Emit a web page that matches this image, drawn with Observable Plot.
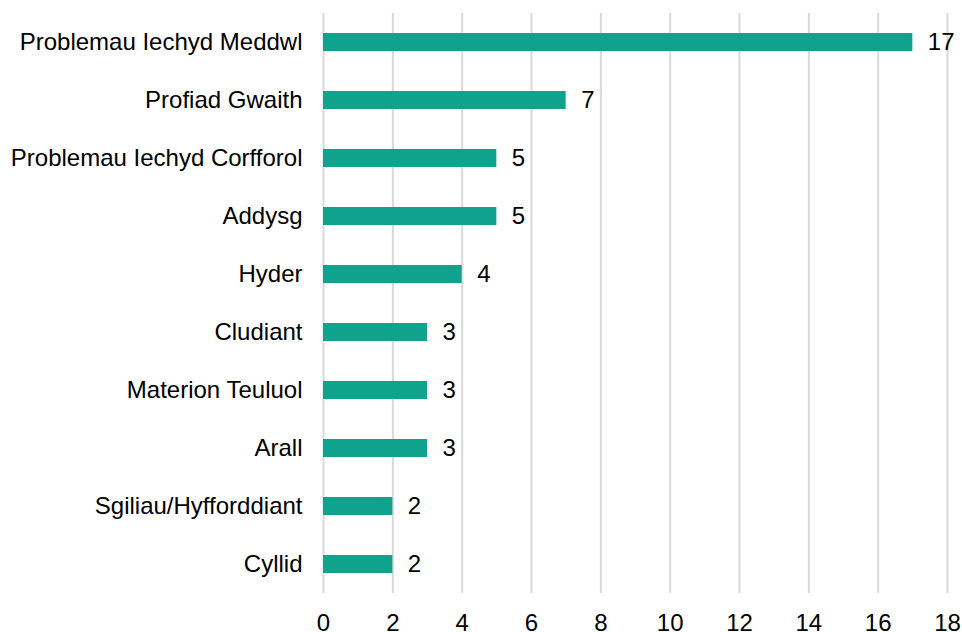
<!DOCTYPE html>
<html>
<head>
<meta charset="utf-8">
<script src="https://cdn.jsdelivr.net/npm/d3@7"></script>
<script src="https://cdn.jsdelivr.net/npm/@observablehq/plot@0.6"></script>
<style>
  html, body { margin: 0; padding: 0; background: #fff; }
  #chart svg { display: block; }
</style>
</head>
<body>
<div id="chart"></div>
<script>
const categories = [
  "Problemau Iechyd Meddwl",
  "Profiad Gwaith",
  "Problemau Iechyd Corfforol",
  "Addysg",
  "Hyder",
  "Cludiant",
  "Materion Teuluol",
  "Arall",
  "Sgiliau/Hyfforddiant",
  "Cyllid"
];
const values = [17, 7, 5, 5, 4, 3, 3, 3, 2, 2];
const xTicks = [0, 2, 4, 6, 8, 10, 12, 14, 16, 18];

const data = categories.map((c, i) => ({category: c, value: values[i]}));

const chart = Plot.plot({
  width: 962,
  height: 632,
  marginTop: 13,
  marginBottom: 39,
  marginLeft: 323,
  marginRight: 15,
  style: {fontFamily: "Liberation Sans, Arial, sans-serif", fontSize: "24px", color: "#000", background: "#fff"},
  x: {domain: [0, 18], ticks: xTicks, label: null},
  y: {domain: categories, paddingInner: 0.69, paddingOuter: 0.345, label: null},
  marks: [
    Plot.ruleX(xTicks, {stroke: "#d9d9d9", strokeWidth: 2, strokeOpacity: 1}),
    Plot.barX(data, {x: "value", y: "category", fill: "#0fa38e"}),
    Plot.text(data, {x: "value", y: "category", text: d => String(d.value), textAnchor: "start", dx: 15, fontSize: 24, fill: "#000"}),
    Plot.axisX({ticks: xTicks, tickSize: 0, tickPadding: 20, fontSize: 24, tickFormat: d => String(d), label: null}),
    Plot.axisY({tickSize: 0, tickPadding: 21, fontSize: 24, label: null})
  ]
});
document.getElementById("chart").appendChild(chart);
</script>
</body>
</html>
